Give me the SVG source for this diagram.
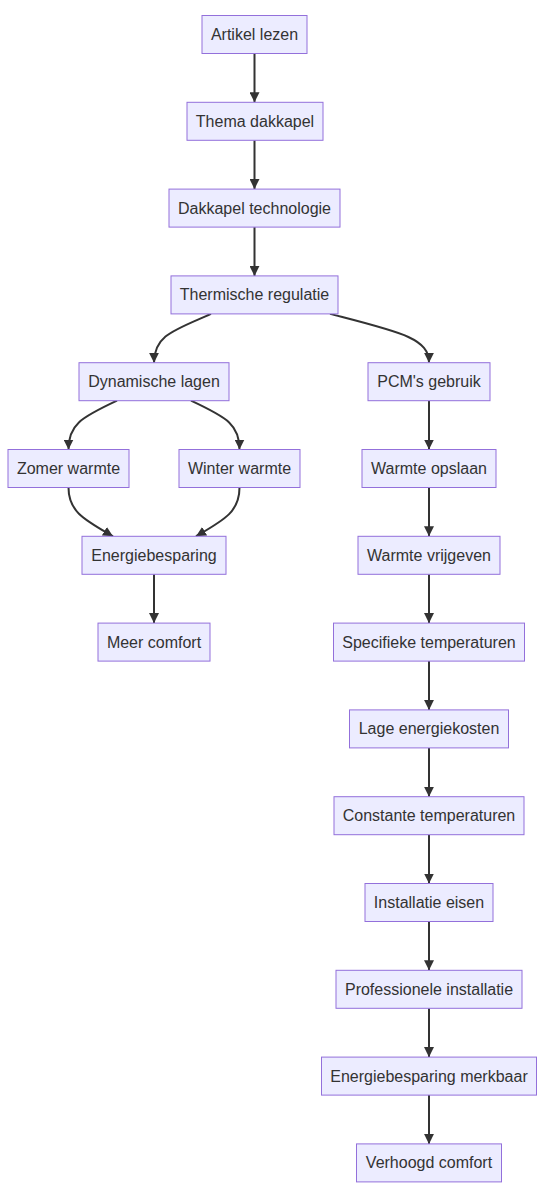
<svg xmlns="http://www.w3.org/2000/svg" width="552" height="1198" viewBox="0 0 552 1198">
<style>
.n rect{fill:#ECECFF;stroke:#9370DB;stroke-width:1px}
.n text{font-family:"Liberation Sans",Arial,sans-serif;font-size:16px;fill:#333;text-anchor:middle;dominant-baseline:central}
.e path{fill:none;stroke:#333;stroke-width:2px;marker-end:url(#arr)}
</style>
<defs>
<marker id="arr" markerUnits="userSpaceOnUse" markerWidth="10" markerHeight="10" viewBox="0 0 10 10" refX="10" refY="5" orient="auto"><path d="M0,0 L10,5 L0,10 z" fill="#333"/></marker>
</defs>
<rect width="552" height="1198" fill="#fff"/>
<g id="edges" class="e">
<path d="M254.5,53.5 L254.5,102.3"/>
<path d="M254.5,140.3 L254.5,189.1"/>
<path d="M254.5,227.1 L254.5,275.9"/>
<path d="M211,313.9 C175,330 154,335 154,362.7"/>
<path d="M330,313.9 C400,332 429,338 429,362.7"/>
<path d="M117,400.7 C80,418 68.5,425 68.5,449.5"/>
<path d="M191,400.7 C228,418 239.5,425 239.5,449.5"/>
<path d="M68.5,487.5 C68.5,512 85,520 113,536.3"/>
<path d="M239.5,487.5 C239.5,512 224,520 196,536.3"/>
<path d="M154,574.3 L154,623.1"/>
<path d="M429,400.7 L429,449.5"/>
<path d="M429,487.5 L429,536.3"/>
<path d="M429,574.3 L429,623.1"/>
<path d="M429,661.1 L429,709.9"/>
<path d="M429,747.9 L429,796.7"/>
<path d="M429,834.7 L429,883.5"/>
<path d="M429,921.5 L429,970.3"/>
<path d="M429,1008.3 L429,1057.1"/>
<path d="M429,1095.1 L429,1143.9"/>
</g>
<g id="n1" class="n"><rect x="202" y="15.5" width="105" height="38"/><text x="254.5" y="34.5">Artikel lezen</text></g>
<g id="n2" class="n"><rect x="187" y="102.3" width="136" height="38"/><text x="255" y="121.3">Thema dakkapel</text></g>
<g id="n3" class="n"><rect x="169" y="189.1" width="171" height="38"/><text x="254.5" y="208.1">Dakkapel technologie</text></g>
<g id="n4" class="n"><rect x="171" y="275.9" width="167" height="38"/><text x="254.5" y="294.9">Thermische regulatie</text></g>
<g id="n5" class="n"><rect x="79" y="362.7" width="150" height="38"/><text x="154" y="381.7">Dynamische lagen</text></g>
<g id="n6" class="n"><rect x="368" y="362.7" width="122" height="38"/><text x="429" y="381.7">PCM's gebruik</text></g>
<g id="n7" class="n"><rect x="8" y="449.5" width="121" height="38"/><text x="68.5" y="468.5">Zomer warmte</text></g>
<g id="n8" class="n"><rect x="179" y="449.5" width="121" height="38"/><text x="239.5" y="468.5">Winter warmte</text></g>
<g id="n9" class="n"><rect x="362" y="449.5" width="134" height="38"/><text x="429" y="468.5">Warmte opslaan</text></g>
<g id="n10" class="n"><rect x="82" y="536.3" width="144" height="38"/><text x="154" y="555.3">Energiebesparing</text></g>
<g id="n11" class="n"><rect x="358" y="536.3" width="142" height="38"/><text x="429" y="555.3">Warmte vrijgeven</text></g>
<g id="n12" class="n"><rect x="98" y="623.1" width="112" height="38"/><text x="154" y="642.1">Meer comfort</text></g>
<g id="n13" class="n"><rect x="333.5" y="623.1" width="191" height="38"/><text x="429" y="642.1">Specifieke temperaturen</text></g>
<g id="n14" class="n"><rect x="349.5" y="709.9" width="159" height="38"/><text x="429" y="728.9">Lage energiekosten</text></g>
<g id="n15" class="n"><rect x="334" y="796.7" width="190" height="38"/><text x="429" y="815.7">Constante temperaturen</text></g>
<g id="n16" class="n"><rect x="365" y="883.5" width="128" height="38"/><text x="429" y="902.5">Installatie eisen</text></g>
<g id="n17" class="n"><rect x="336" y="970.3" width="186" height="38"/><text x="429" y="989.3">Professionele installatie</text></g>
<g id="n18" class="n"><rect x="321.5" y="1057.1" width="215" height="38"/><text x="429" y="1076.1">Energiebesparing merkbaar</text></g>
<g id="n19" class="n"><rect x="356.5" y="1143.9" width="145" height="38"/><text x="429" y="1162.9">Verhoogd comfort</text></g>
</svg>
